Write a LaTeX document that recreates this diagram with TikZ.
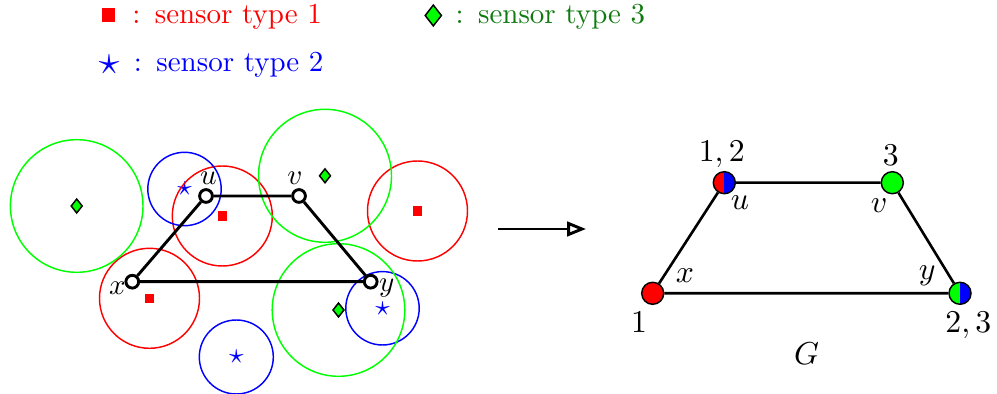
\documentclass[tikz,border=0pt]{standalone}
\usepackage{xcolor}
\usepackage{tikz}
\usepackage{amsmath}
\usetikzlibrary{shapes.geometric,arrows.meta}
\definecolor{SensRed}{HTML}{FF0000}
\definecolor{SensBlue}{HTML}{0000FF}
\definecolor{SensGreen}{HTML}{00FF00}
\definecolor{LegendGreen}{HTML}{107A10}

\tikzset{
  typeone/.style={rectangle, fill=SensRed, inner sep=0pt, minimum size=3.3pt},
  typetwo/.style={text=SensBlue, inner sep=0pt, font=\normalsize},
  typethree/.style={diamond, draw=black, fill=SensGreen, line width=0.5pt,
    inner sep=0pt, minimum width=4pt, minimum height=5pt},
  rangeone/.style={draw=SensRed, line width=0.5pt},
  rangetwo/.style={draw=SensBlue, line width=0.5pt},
  rangethree/.style={draw=SensGreen, line width=0.5pt},
  legtext/.style={anchor=base west, inner sep=0pt},
  svert/.style={circle, draw=black, fill=white, line width=1pt,
    inner sep=0pt, minimum size=4.4pt},
  gvert/.style={circle, draw=black, line width=0.5pt,
    inner sep=0pt, minimum size=7.6pt},
  halfvert/.style 2 args={gvert, fill=#1,
    path picture={\fill[#2] (path picture bounding box.north)
      rectangle (path picture bounding box.south east);}},
  glbl/.style={inner sep=0pt, font=\fontsize{11}{13}\selectfont},
}

\begin{document}
\begin{tikzpicture}[x=0.345pt, y=-0.345pt]
  \useasboundingbox (0,0) rectangle (997,394);

  % legend
  \node[typeone, minimum size=4.5pt] (legone) at (108.3,15) {};
  \node[legtext, text=SensRed] (legonetxt) at (131.7,23.3) {:\enspace sensor type 1};
  \node[typetwo, font=\Large] (legtwo) at (109,65) {$\star$};
  \node[legtext, text=SensBlue] (legtwotxt) at (133.3,71.7) {:\enspace sensor type 2};
  \node[typethree, minimum width=5.8pt, minimum height=7.4pt] (legthree) at (433.3,15.5) {};
  \node[legtext, text=LegendGreen] (legthreetxt) at (455,23.3) {:\enspace sensor type 3};

  % sensors and their ranges
  \node[typeone] (sa) at (222.3,216) {};
  \node[typeone] (sb) at (417.5,211) {};
  \node[typeone] (sc) at (149.5,298.3) {};
  \node[typetwo] (sd) at (184.5,189) {$\star$};
  \node[typetwo] (se) at (382.5,308.3) {$\star$};
  \node[typetwo] (sf) at (236.3,357) {$\star$};
  \node[typethree] (sg) at (76.7,206) {};
  \node[typethree] (sh) at (325,175.8) {};
  \node[typethree] (si) at (338.5,310) {};

  \draw[rangeone] (sa) circle[radius=50] (sb) circle[radius=50] (sc) circle[radius=50];
  \draw[rangetwo] (sd) circle[radius=36.7] (se) circle[radius=36.7] (sf) circle[radius=37];
  \draw[rangethree] (sg) circle[radius=66.3] (sh) circle[radius=66.5] (si) circle[radius=66.3];

  % sensor field graph
  \node[svert] (u) at (206,196) {};
  \node[svert] (v) at (299,196) {};
  \node[svert] (x) at (132.3,281.7) {};
  \node[svert] (y) at (370.7,281.7) {};
  \draw[line width=1pt] (x) -- (u) -- (v) -- (y) -- (x);
  \node[inner sep=0pt] (ulab) at (208.3,178.3) {$u$};
  \node[inner sep=0pt] (vlab) at (295,178) {$v$};
  \node[inner sep=0pt] (xlab) at (117.5,288.3) {$x$};
  \node[inner sep=0pt] (ylab) at (386.7,288.5) {$y$};

  % arrow
  \coordinate (arrfrom) at (498.3,229);
  \coordinate (arrto) at (586,229);
  \draw[line width=1pt, -{Triangle[open, length=6.5pt, width=5pt]}] (arrfrom) -- (arrto);

  % graph G
  \node[halfvert={SensRed}{SensBlue}] (gu) at (724.3,182.7) {};
  \node[gvert, fill=SensGreen] (gv) at (892.3,182.7) {};
  \node[gvert, fill=SensRed] (gx) at (652.7,293.3) {};
  \node[halfvert={SensGreen}{SensBlue}] (gy) at (960,293.3) {};
  \draw[line width=0.9pt] (gx) -- (gu) -- (gv) -- (gy) -- (gx);

  \node[glbl] (gulab) at (721.7,154.5) {$1,2$};
  \node[glbl] (gvlab) at (890.7,155) {$3$};
  \node[glbl] (gxlab) at (639,322.3) {$1$};
  \node[glbl] (gylab) at (968.3,325) {$2,3$};
  \node[glbl] (guname) at (740,202.3) {$u$};
  \node[glbl] (gvname) at (879,205.7) {$v$};
  \node[glbl] (gxname) at (685,276) {$x$};
  \node[glbl] (gyname) at (927.3,275.7) {$y$};
  \node[glbl] (gname) at (806.7,353.3) {$G$};
\end{tikzpicture}
\end{document}
